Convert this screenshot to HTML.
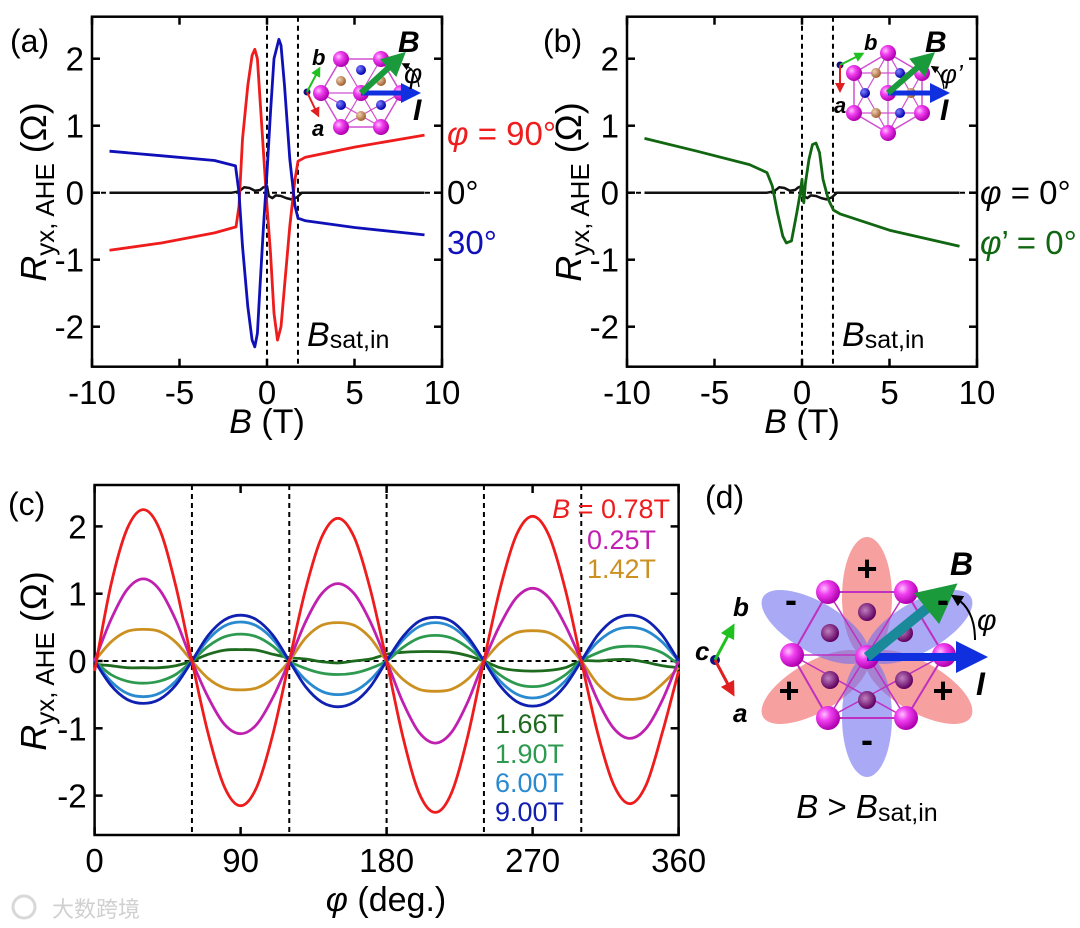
<!DOCTYPE html>
<html><head><meta charset="utf-8"><style>
html,body{margin:0;padding:0;background:#fff;}
svg{display:block;font-family:"Liberation Sans",sans-serif;}
</style></head><body>
<svg id="fig" width="1080" height="928" viewBox="0 0 1080 928" xmlns="http://www.w3.org/2000/svg">
<defs>
<radialGradient id="pinkG" cx="35%" cy="35%" r="65%"><stop offset="0" stop-color="#ffc0ff"/><stop offset="0.4" stop-color="#f040f0"/><stop offset="1" stop-color="#b000b0"/></radialGradient>
<radialGradient id="blueG" cx="35%" cy="35%" r="65%"><stop offset="0" stop-color="#8080ff"/><stop offset="1" stop-color="#0000b0"/></radialGradient>
<radialGradient id="brownG" cx="35%" cy="35%" r="65%"><stop offset="0" stop-color="#f0d0b0"/><stop offset="1" stop-color="#a06030"/></radialGradient>
<radialGradient id="purpG" cx="40%" cy="40%" r="60%"><stop offset="0" stop-color="#c080c0"/><stop offset="1" stop-color="#600060"/></radialGradient>
<marker id="ahG" markerWidth="4" markerHeight="4" refX="2" refY="2" orient="auto"><path d="M0,0L4,2L0,4z" fill="#1a9a3a"/></marker>
<marker id="ahB" markerWidth="4" markerHeight="4" refX="2" refY="2" orient="auto"><path d="M0,0L4,2L0,4z" fill="#1030e0"/></marker>
<marker id="ahg" markerWidth="5" markerHeight="5" refX="2.5" refY="2.5" orient="auto"><path d="M0,0L5,2.5L0,5z" fill="#20c020"/></marker>
<marker id="ahr" markerWidth="5" markerHeight="5" refX="2.5" refY="2.5" orient="auto"><path d="M0,0L5,2.5L0,5z" fill="#e02020"/></marker>
<marker id="ahk" markerWidth="6" markerHeight="6" refX="3" refY="3" orient="auto"><path d="M0,0L6,3L0,6z" fill="#000"/></marker>
</defs>
<g id="root"></g>
</svg>
<script>
// ---------- Panel (a) data ----------
const aRedB   = [-9,-6,-3,-1.77,-1.6,-1.4,-1.1,-0.85,-0.7,-0.55,-0.4,-0.2,0,0.2,0.4,0.6,0.8,1.0,1.3,1.6,1.77,2.2,5,9];
const aRedV   = [-0.86,-0.75,-0.6,-0.51,-0.2,0.8,1.6,2.05,2.14,2.0,1.4,0.6,-0.2,-0.9,-1.8,-2.2,-2.0,-1.4,-0.5,0.2,0.47,0.53,0.68,0.86];
const aBlueB  = [-9,-6,-3,-1.8,-1.6,-1.4,-1.1,-0.85,-0.7,-0.55,-0.4,-0.2,0,0.2,0.4,0.68,0.8,1.0,1.3,1.6,1.77,2.2,5,9];
const aBlueV  = [0.62,0.55,0.48,0.4,0.0,-0.8,-1.7,-2.2,-2.3,-2.1,-1.4,-0.5,0.3,1.2,2.0,2.29,2.2,1.6,0.5,-0.2,-0.38,-0.42,-0.52,-0.63];
const blackB  = [-9,-2,-1.6,-1.3,-1.0,-0.7,-0.4,-0.2,0,0.1,0.3,0.5,0.8,1.1,1.4,1.7,2,9];
const blackV  = [0,0,0.02,0.08,0.07,0.03,0.04,0.08,0.1,-0.05,-0.08,-0.04,-0.05,-0.08,-0.1,-0.07,0,0];
// ---------- Panel (b) data ----------
const bGreenB = [-9,-6,-3,-2,-1.7,-1.4,-1.1,-0.9,-0.6,-0.3,-0.1,0,0.05,0.1,0.2,0.4,0.6,0.8,1.0,1.2,1.5,1.8,2.2,5,9];
const bGreenV = [0.81,0.62,0.42,0.3,0.1,-0.3,-0.65,-0.75,-0.72,-0.3,0.0,0.2,-0.05,-0.15,0.15,0.5,0.72,0.74,0.6,0.2,-0.1,-0.26,-0.32,-0.56,-0.8];
// ---------- Panel (c) data ----------
const phi = [0,10,20,30,40,50,60,70,80,90,100,110,120,130,140,150,160,170,180,190,200,210,220,230,240,250,260,270,280,290,300,310,320,330,340,350,360];
const c078 = [-0.15,1.12,1.96,2.25,1.96,1.12,0,-1.08,-1.87,-2.15,-1.87,-1.08,0,1.06,1.84,2.12,1.84,1.06,0,-1.12,-1.96,-2.25,-1.96,-1.12,0,1.08,1.87,2.15,1.87,1.08,0,-1.06,-1.84,-2.12,-1.84,-1.06,-0.15];
const c025 = [0,0.61,1.06,1.22,1.06,0.61,0,-0.54,-0.94,-1.08,-0.94,-0.54,0,0.58,1.0,1.15,1.0,0.58,0,-0.61,-1.06,-1.22,-1.06,-0.61,0,0.54,0.94,1.08,0.94,0.54,0,-0.58,-1.0,-1.15,-1.0,-0.58,0];
const c142 = [0,0.28,0.44,0.47,0.44,0.28,0,-0.26,-0.4,-0.43,-0.4,-0.26,0,0.34,0.53,0.57,0.53,0.34,0,-0.27,-0.42,-0.45,-0.42,-0.27,0,0.27,0.42,0.45,0.42,0.27,0,-0.34,-0.53,-0.57,-0.53,-0.34,-0.1];
const c166 = [-0.05,-0.07,-0.1,-0.1,-0.1,-0.07,0,0.1,0.16,0.17,0.16,0.1,0.05,0.03,-0.01,-0.03,0,0.03,0.1,0.13,0.14,0.14,0.13,0.08,0,-0.1,-0.14,-0.15,-0.14,-0.1,0,0,0.02,0.02,-0.02,-0.07,-0.1];
const c190 = [0,-0.2,-0.3,-0.33,-0.3,-0.2,0,0.22,0.36,0.4,0.36,0.22,0,-0.11,-0.18,-0.2,-0.18,-0.11,0,0.2,0.34,0.38,0.34,0.2,0,-0.21,-0.34,-0.38,-0.34,-0.21,0,0.12,0.2,0.22,0.2,0.12,-0.05];
const c600 = [0,-0.3,-0.48,-0.53,-0.48,-0.3,0,0.32,0.52,0.58,0.52,0.32,0,-0.28,-0.45,-0.5,-0.45,-0.28,0,0.31,0.51,0.57,0.51,0.31,0,-0.3,-0.49,-0.55,-0.49,-0.3,0,0.28,0.45,0.5,0.45,0.28,0];
const c900 = [0,-0.36,-0.57,-0.63,-0.57,-0.36,0,0.38,0.61,0.68,0.61,0.38,0,-0.38,-0.61,-0.68,-0.61,-0.38,0,0.36,0.59,0.65,0.59,0.36,0,-0.37,-0.6,-0.67,-0.6,-0.37,0,0.38,0.61,0.68,0.61,0.38,0];
const bTicks = [-10,-5,0,5,10];
const rTicks = [-2,-1,0,1,2];
const phiTicks = [0,90,180,270,360];
const phiDashes = [60,120,180,240,300];
const bSat = 1.77;

const NS = "http://www.w3.org/2000/svg";
const root = document.getElementById('root');
function el(tag, attrs, parent){
  const e = document.createElementNS(NS, tag);
  for (const k in attrs) e.setAttribute(k, attrs[k]);
  (parent||root).appendChild(e);
  return e;
}
function txt(parent, x, y, str, size, extra){
  const t = el('text', Object.assign({x:x, y:y, 'font-size':size}, extra||{}), parent);
  t.textContent = str;
  return t;
}
function linScale(d0,d1,r0,r1){ return v => r0 + (v-d0)*(r1-r0)/(d1-d0); }

function axesBox(g, name, X, Y, x0,x1,y0,y1, xt, yt, xlabelY){
  const box = el('rect',{x:x0,y:y0,width:x1-x0,height:y1-y0,fill:'none',stroke:'#000','stroke-width':2.5},g);
  
  
  xt.forEach(v=>{
    const px = X(v);
    el('line',{x1:px,y1:y1,x2:px,y2:y1-8,stroke:'#000','stroke-width':2.5},g);
    el('line',{x1:px,y1:y0,x2:px,y2:y0+8,stroke:'#000','stroke-width':2.5},g);
    const t = txt(g, px, xlabelY, String(v), 33, {'text-anchor':'middle'});
    
    
  });
  yt.forEach(v=>{
    const py = Y(v);
    el('line',{x1:x0,y1:py,x2:x0+8,y2:py,stroke:'#000','stroke-width':2.5},g);
    el('line',{x1:x1,y1:py,x2:x1-8,y2:py,stroke:'#000','stroke-width':2.5},g);
    const t = txt(g, x0-8, py+12, String(v), 33, {'text-anchor':'end'});
    
    
  });
}
function dashV(g, px, y0, y1){ el('line',{x1:px,y1:y0,x2:px,y2:y1,stroke:'#000','stroke-width':2,'stroke-dasharray':'5,4'},g); }
function dashH(g, py, x0, x1){ el('line',{x1:x0,y1:py,x2:x1,y2:py,stroke:'#000','stroke-width':2,'stroke-dasharray':'5,4'},g); }
function series(g, xs, vs, X, Y, color, name, w, smooth){
  const P = xs.map((x,i)=>[X(x),Y(vs[i])]);
  let d = 'M'+P[0][0].toFixed(1)+','+P[0][1].toFixed(1);
  for (let i=1;i<P.length;i++){
    if (smooth){
      const p0=P[Math.max(0,i-2)], p1=P[i-1], p2=P[i], p3=P[Math.min(P.length-1,i+1)];
      const c1x=p1[0]+(p2[0]-p0[0])/6, c1y=p1[1]+(p2[1]-p0[1])/6;
      const c2x=p2[0]-(p3[0]-p1[0])/6, c2y=p2[1]-(p3[1]-p1[1])/6;
      d += 'C'+c1x.toFixed(1)+','+c1y.toFixed(1)+' '+c2x.toFixed(1)+','+c2y.toFixed(1)+' '+p2[0].toFixed(1)+','+p2[1].toFixed(1);
    } else d += 'L'+P[i][0].toFixed(1)+','+P[i][1].toFixed(1);
  }
  const p = el('path',{d:d,fill:'none',stroke:color,'stroke-width':w||2.8,'stroke-linejoin':'round'},g);
  
  
  return p;
}
function yTitle(g, cx, cy){
  const t = el('text',{x:0,y:0,'font-size':36,'text-anchor':'middle',transform:`translate(${cx},${cy}) rotate(-90)`},g);
  
  
  t.innerHTML = '<tspan font-style="italic">R</tspan><tspan font-size="26" dy="8">yx, AHE</tspan><tspan dy="-8"> (Ω)</tspan>';
}
function bsatLabel(g, x, y){
  const t = el('text',{x:x,y:y,'font-size':34},g);
  
  
  t.innerHTML = '<tspan font-style="italic">B</tspan><tspan font-size="25" dy="2">sat,in</tspan>';
}
function sphere(g,x,y,r,grad){ el('circle',{cx:x,cy:y,r:r,fill:`url(#${grad})`},g); }

// ============ Panel (a) ============
{
  const g = el('g',{});
  
  
  const X = linScale(-10,10,92,442), Y = linScale(0,1,192.7,125.7);
  axesBox(g,'panel-a',X,Y,92,442,16.7,366.7,bTicks,rTicks,404);
  dashV(g,X(0),16.7,366.7); dashV(g,X(bSat),16.7,366.7); dashH(g,Y(0),92,442);
  series(g,blackB,blackV,X,Y,'#111','series-a-0deg',2.5);
  series(g,aRedB,aRedV,X,Y,'#ee1c1c','series-a-90deg');
  series(g,aBlueB,aBlueV,X,Y,'#1010b8','series-a-30deg');
  const ig = el('g',{},g);
  
  
  const cx=361, cy=93;
  const V=[[cx-40,cy],[cx+40,cy],[cx-20,cy-34],[cx+20,cy-34],[cx-20,cy+34],[cx+20,cy+34]];
  const hexP = [V[2],V[3],V[1],V[5],V[4],V[0]].map(p=>p.join(',')).join(' ');
  el('polygon',{points:hexP,fill:'none',stroke:'#d050d0','stroke-width':1.5},ig);
  el('polygon',{points:[V[2],V[5],V[0]].map(p=>p.join(',')).join(' '),fill:'none',stroke:'#d050d0','stroke-width':1.2},ig);
  el('polygon',{points:[V[3],V[4],V[1]].map(p=>p.join(',')).join(' '),fill:'none',stroke:'#d050d0','stroke-width':1.2},ig);
  el('line',{x1:V[0][0],y1:cy,x2:V[1][0],y2:cy,stroke:'#d050d0','stroke-width':1.2},ig);
  [[cx,cy-23,'blueG'],[cx-20,cy-12,'brownG'],[cx+20,cy-12,'brownG'],[cx-20,cy+12,'blueG'],[cx+20,cy+12,'blueG'],[cx,cy+23,'brownG']].forEach(s=>sphere(ig,s[0],s[1],5,s[2]));
  V.concat([[cx,cy]]).forEach(p=>sphere(ig,p[0],p[1],8,'pinkG'));
  el('line',{x1:cx,y1:cy,x2:cx+50,y2:cy,stroke:'#1030e0','stroke-width':5,'marker-end':'url(#ahB)'},ig);
  el('line',{x1:cx,y1:cy,x2:cx+36,y2:cy-33,stroke:'#1a9a3a','stroke-width':6,'marker-end':'url(#ahG)'},ig);
  el('path',{d:`M${cx+58},${cy-6} Q${cx+56},${cy-22} ${cx+44},${cy-28}`,fill:'none',stroke:'#000','stroke-width':1.3,'marker-end':'url(#ahk)'},ig);
  el('circle',{cx:307,cy:92,r:3.5,fill:'#101080'},ig);
  el('line',{x1:307,y1:92,x2:318,y2:71,stroke:'#20c020','stroke-width':2,'marker-end':'url(#ahg)'},ig);
  el('line',{x1:307,y1:92,x2:317,y2:113,stroke:'#e02020','stroke-width':2,'marker-end':'url(#ahr)'},ig);
  txt(ig,312,65,'b',22,{'font-weight':'bold','font-style':'italic'});
  txt(ig,312,136,'a',22,{'font-weight':'bold','font-style':'italic'});
  txt(ig,398,52,'B',30,{'font-weight':'bold','font-style':'italic'});
  txt(ig,413,120,'I',30,{'font-weight':'bold','font-style':'italic'});
  txt(ig,404,83,'φ',28,{'font-style':'italic'});
  const l1 = txt(g,447,145,'',33,{fill:'#ee1c1c'}); l1.innerHTML='<tspan font-style="italic">φ</tspan> = 90°';
   
  const l2 = txt(g,447,204,'0°',33,{});  
  const l3 = txt(g,447,254,'30°',33,{fill:'#1010b8'});  
  bsatLabel(g,307,346);
  const xt = txt(g,267,433,'',34,{'text-anchor':'middle'}); xt.innerHTML='<tspan font-style="italic">B</tspan> (T)';
   
  yTitle(g,46,192);
  const pl = txt(g,10,52,'(a)',32,{});  
}
// ============ Panel (b) ============
{
  const g = el('g',{});
  
  
  const X = linScale(-10,10,627,977), Y = linScale(0,1,192.7,125.7);
  axesBox(g,'panel-b',X,Y,627,977,16.7,366.7,bTicks,rTicks,404);
  dashV(g,X(0),16.7,366.7); dashV(g,X(bSat),16.7,366.7); dashH(g,Y(0),627,977);
  series(g,blackB,blackV,X,Y,'#111','series-b-phi-0deg',2.5);
  series(g,bGreenB,bGreenV,X,Y,'#116611','series-b-phiprime-0deg');
  const ig = el('g',{},g);
  
  
  const cx=888, cy=93;
  const V=[[cx,cy-40],[cx,cy+40],[cx-34,cy-20],[cx+34,cy-20],[cx-34,cy+20],[cx+34,cy+20]];
  el('polygon',{points:[V[0],V[3],V[5],V[1],V[4],V[2]].map(p=>p.join(',')).join(' '),fill:'none',stroke:'#d050d0','stroke-width':1.5},ig);
  el('polygon',{points:[V[0],V[5],V[4]].map(p=>p.join(',')).join(' '),fill:'none',stroke:'#d050d0','stroke-width':1.2},ig);
  el('polygon',{points:[V[1],V[3],V[2]].map(p=>p.join(',')).join(' '),fill:'none',stroke:'#d050d0','stroke-width':1.2},ig);
  el('line',{x1:cx,y1:cy-40,x2:cx,y2:cy+40,stroke:'#d050d0','stroke-width':1.2},ig);
  [[cx-12,cy-20,'brownG'],[cx+12,cy-20,'blueG'],[cx-23,cy,'blueG'],[cx+23,cy,'brownG'],[cx-12,cy+20,'brownG'],[cx+12,cy+20,'blueG']].forEach(s=>sphere(ig,s[0],s[1],5,s[2]));
  V.concat([[cx,cy]]).forEach(p=>sphere(ig,p[0],p[1],8,'pinkG'));
  el('line',{x1:cx,y1:cy,x2:cx+52,y2:cy,stroke:'#1030e0','stroke-width':5,'marker-end':'url(#ahB)'},ig);
  el('line',{x1:cx,y1:cy,x2:cx+38,y2:cy-33,stroke:'#1a9a3a','stroke-width':6,'marker-end':'url(#ahG)'},ig);
  el('path',{d:`M${cx+56},${cy-4} Q${cx+54},${cy-20} ${cx+46},${cy-25}`,fill:'none',stroke:'#000','stroke-width':1.3,'marker-end':'url(#ahk)'},ig);
  el('circle',{cx:840,cy:65,r:3.5,fill:'#101080'},ig);
  el('line',{x1:840,y1:65,x2:860,y2:55,stroke:'#20c020','stroke-width':2,'marker-end':'url(#ahg)'},ig);
  el('line',{x1:840,y1:65,x2:840,y2:88,stroke:'#e02020','stroke-width':2,'marker-end':'url(#ahr)'},ig);
  txt(ig,864,50,'b',22,{'font-weight':'bold','font-style':'italic'});
  txt(ig,834,113,'a',22,{'font-weight':'bold','font-style':'italic'});
  txt(ig,925,52,'B',30,{'font-weight':'bold','font-style':'italic'});
  txt(ig,940,120,'I',30,{'font-weight':'bold','font-style':'italic'});
  txt(ig,940,83,'φ’',26,{'font-style':'italic'});
  const l1 = txt(g,980,204,'',33,{}); l1.innerHTML='<tspan font-style="italic">φ</tspan> = 0°';
   
  const l2 = txt(g,980,254,'',33,{fill:'#116611'}); l2.innerHTML='<tspan font-style="italic">φ</tspan>’ = 0°';
   
  bsatLabel(g,842,346);
  const xt = txt(g,802,433,'',34,{'text-anchor':'middle'}); xt.innerHTML='<tspan font-style="italic">B</tspan> (T)';
   
  yTitle(g,581,192);
  const pl = txt(g,543,52,'(b)',32,{});  
}
// ============ Panel (c) ============
{
  const g = el('g',{});
  
  
  const X = linScale(0,360,94.6,678.6), Y = linScale(0,1,661,593.7);
  axesBox(g,'panel-c',X,Y,94.6,678.6,485,835,phiTicks,rTicks,872);
  phiDashes.forEach(v=>dashV(g,X(v),485,835)); dashH(g,Y(0),94.6,678.6);
  series(g,phi,c166,X,Y,'#1e6a1e','series-c-1.66T',2.8,true);
  series(g,phi,c190,X,Y,'#2e9a50','series-c-1.90T',2.8,true);
  series(g,phi,c600,X,Y,'#2a8ad0','series-c-6.00T',2.8,true);
  series(g,phi,c900,X,Y,'#1020b0','series-c-9.00T',2.8,true);
  series(g,phi,c142,X,Y,'#cc9020','series-c-1.42T',2.8,true);
  series(g,phi,c025,X,Y,'#c020b0','series-c-0.25T',2.8,true);
  series(g,phi,c078,X,Y,'#ee1c1c','series-c-0.78T',2.8,true);
  const leg = [['B = 0.78T','#ee1c1c',670,518,'legend-0.78T','end'],['0.25T','#c020b0',656,549,'legend-0.25T','end'],['1.42T','#cc9020',656,578,'legend-1.42T','end'],
    ['1.66T','#1e6a1e',495,733,'legend-1.66T','start'],['1.90T','#2e9a50',495,763,'legend-1.90T','start'],['6.00T','#2a8ad0',495,792,'legend-6.00T','start'],['9.00T','#1020b0',495,821,'legend-9.00T','start']];
  leg.forEach(l=>{
    const t = txt(g,l[2],l[3],l[0],27,{fill:l[1],'text-anchor':l[5]});
    if (l[0].startsWith('B')) t.innerHTML='<tspan font-style="italic">B</tspan> = 0.78T';
    
    
  });
  const xt = txt(g,386,911,'',34,{'text-anchor':'middle'}); xt.innerHTML='<tspan font-style="italic">φ</tspan> (deg.)';
   
  yTitle(g,46,661);
  const pl = txt(g,8,515,'(c)',32,{});  
  const wm = txt(g,52,917,'大数跨境',22,{fill:'#d0d0d0','font-family':'"Liberation Sans","Noto Sans CJK SC",sans-serif'});
   
  const wl = el('circle',{cx:24,cy:907,r:11,fill:'none',stroke:'#d8d8d8','stroke-width':3},g);
   
}
// ============ Panel (d) ============
{
  const g = el('g',{});
  
  
  const cx=867, cy=657;
  [[90,'#f06060'],[210,'#f06060'],[330,'#f06060'],[270,'#7070f0'],[150,'#7070f0'],[30,'#7070f0']].forEach(l=>{
    const e = el('ellipse',{cx:cx,cy:cy-60,rx:25,ry:60,fill:l[1],'fill-opacity':0.6,transform:`rotate(${90-l[0]},${cx},${cy})`},g);
    
    
  });
  const P=[[828,592],[906,592],[792,655],[944,655],[828,718],[906,718]];
  el('polygon',{points:[P[0],P[1],P[3],P[5],P[4],P[2]].map(p=>p.join(',')).join(' '),fill:'none',stroke:'#c030c0','stroke-width':2},g);
  el('polygon',{points:[P[0],P[5],P[2]].map(p=>p.join(',')).join(' '),fill:'none',stroke:'#c030c0','stroke-width':1.5},g);
  el('polygon',{points:[P[1],P[4],P[3]].map(p=>p.join(',')).join(' '),fill:'none',stroke:'#c030c0','stroke-width':1.5},g);
  el('line',{x1:792,y1:655,x2:944,y2:655,stroke:'#c030c0','stroke-width':1.5},g);
  [[867,612],[830,633],[904,633],[830,680],[904,680],[867,700]].forEach(p=>sphere(g,p[0],p[1],9,'purpG'));
  P.forEach(p=>sphere(g,p[0],p[1],12,'pinkG'));
  sphere(g,cx,cy,12,'pinkG');
  el('line',{x1:cx,y1:cy,x2:972,y2:cy,stroke:'#1030e0','stroke-width':8,'marker-end':'url(#ahB)'},g);
  el('line',{x1:cx,y1:cy,x2:942,y2:596,stroke:'#1a8a9a','stroke-width':10,'marker-end':'url(#ahG)'},g);
  el('path',{d:'M975,640 Q975,610 956,598',fill:'none',stroke:'#000','stroke-width':2,'marker-end':'url(#ahk)'},g);
  [['+',867,581],['+',789,703],['+',943,703],['-',867,752],['-',791,612],['-',943,612]].forEach(s=>{
    const t = txt(g,s[1],s[2],s[0],36,{'text-anchor':'middle','font-weight':'bold',fill:'#000'});
     
  });
  el('circle',{cx:715,cy:660,r:5,fill:'#101080'},g);
  el('line',{x1:715,y1:660,x2:731,y2:630,stroke:'#20c020','stroke-width':3,'marker-end':'url(#ahg)'},g);
  el('line',{x1:715,y1:660,x2:731,y2:690,stroke:'#e02020','stroke-width':3,'marker-end':'url(#ahr)'},g);
  txt(g,733,616,'b',26,{'font-weight':'bold','font-style':'italic'});
  txt(g,695,660,'c',26,{'font-weight':'bold','font-style':'italic'});
  txt(g,733,722,'a',26,{'font-weight':'bold','font-style':'italic'});
  txt(g,950,575,'B',32,{'font-weight':'bold','font-style':'italic'});
  txt(g,976,695,'I',32,{'font-weight':'bold','font-style':'italic'});
  txt(g,977,630,'φ',30,{'font-style':'italic'});
  const bl = txt(g,867,818,'',33,{'text-anchor':'middle'});
  bl.innerHTML='<tspan font-style="italic">B</tspan> &gt; <tspan font-style="italic">B</tspan><tspan font-size="25" dy="3">sat,in</tspan>';
   
  const pl = txt(g,705,508,'(d)',32,{});  
}
</script>
</body></html>
